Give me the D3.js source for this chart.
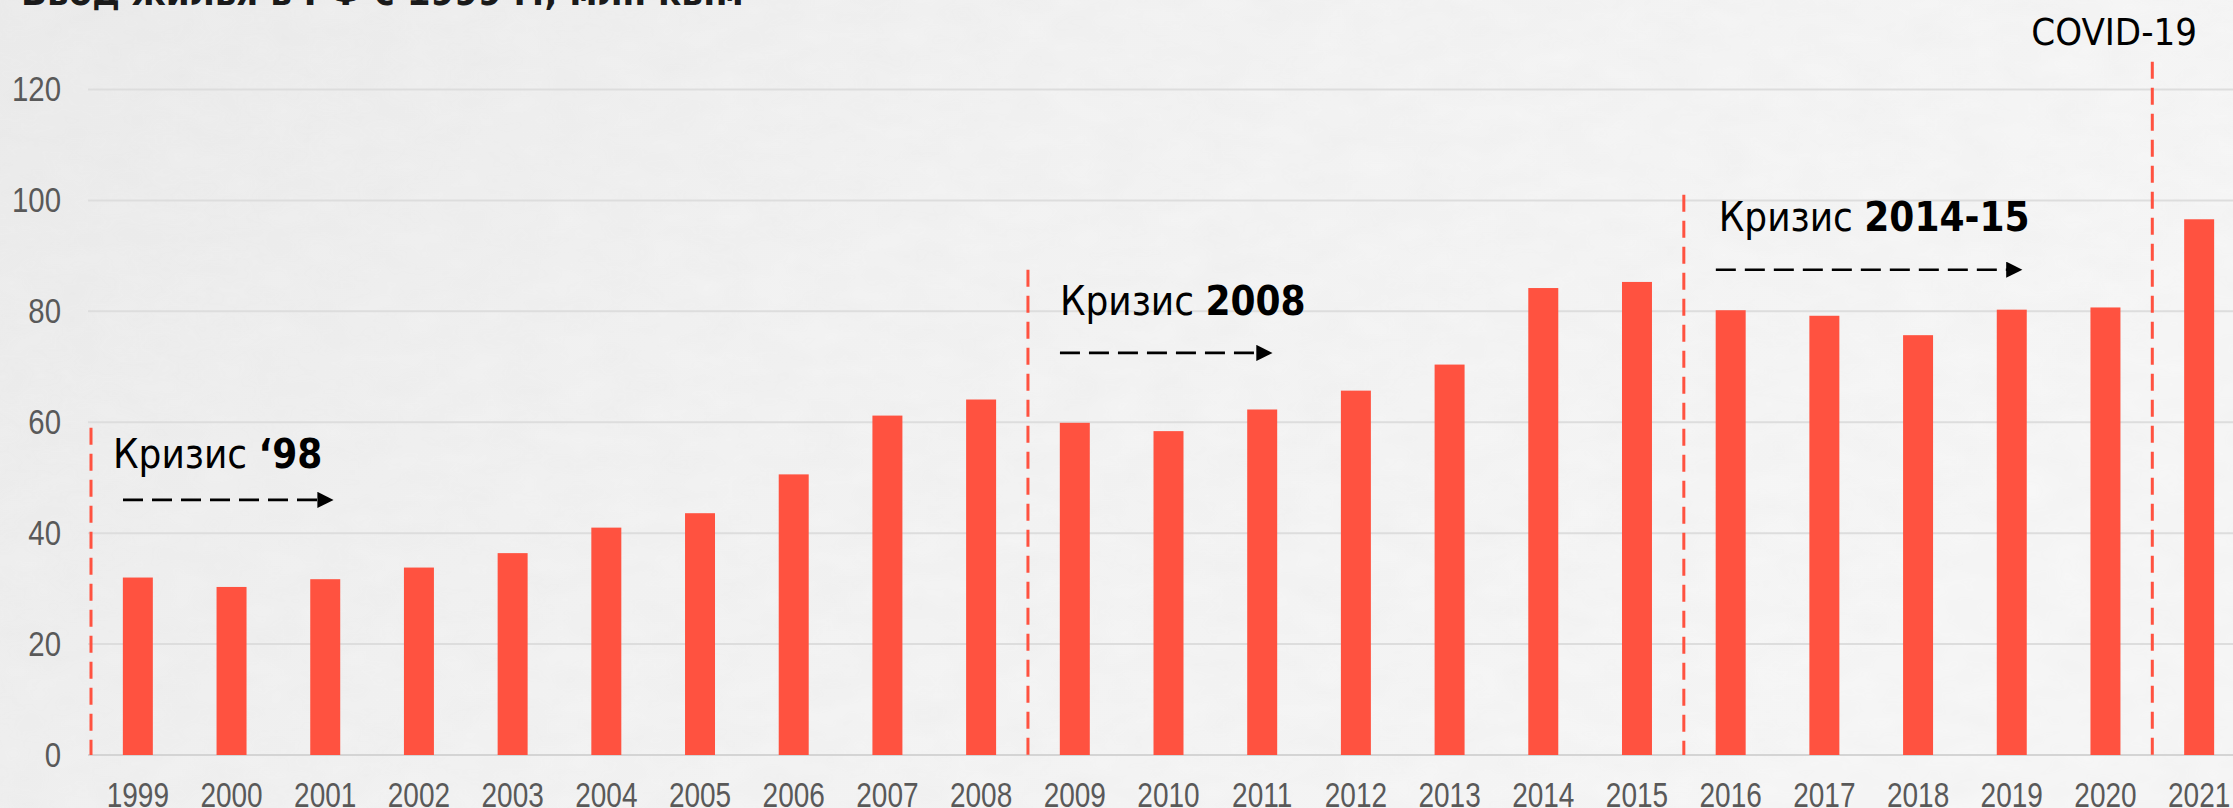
<!DOCTYPE html>
<html>
<head>
<meta charset="utf-8">
<script src="https://cdn.jsdelivr.net/npm/d3@7"></script>
<style>
  html, body { margin: 0; padding: 0; overflow: hidden; }
  #chart svg { display: block; }
</style>
</head>
<body>
<div id="chart"></div>
<script>
var years = ['1999','2000','2001','2002','2003','2004','2005','2006','2007','2008','2009',
  '2010','2011','2012','2013','2014','2015','2016','2017','2018','2019','2020','2021'];
var housing = [32.0, 30.3, 31.7, 33.8, 36.4, 41.0, 43.6, 50.6, 61.2, 64.1, 59.9,
  58.4, 62.3, 65.7, 70.4, 84.2, 85.3, 80.2, 79.2, 75.7, 80.3, 80.7, 96.6];
var yTicks = [0, 20, 40, 60, 80, 100, 120];

// crisis markers: first year after the line, how high the line goes
var crisisYears = ['1999', '2009', '2016', '2021'];
var crisisTops = [59, 87.5, 101, 125];
var crisisNames = ['Кризис ', 'Кризис ', 'Кризис ', 'COVID-19'];
var crisisBold = ['‘98', '2008', '2014-15', ''];

var width = 2233;
var height = 808;
var barColor = '#ff5240';
var labelFont = '"Liberation Sans", Arial, sans-serif';
var noteFont = '"DejaVu Sans Condensed", Tahoma, sans-serif';

var svg = d3.select('#chart').append('svg')
  .attr('width', width)
  .attr('height', height);

var defs = svg.append('defs');

var bg = defs.append('linearGradient')
  .attr('id', 'paper')
  .attr('x1', '0').attr('y1', '0')
  .attr('x2', '1').attr('y2', '0.3');
bg.append('stop').attr('offset', '0').attr('stop-color', '#ececec');
bg.append('stop').attr('offset', '0.45').attr('stop-color', '#f3f3f3');
bg.append('stop').attr('offset', '1').attr('stop-color', '#f7f7f7');

// faint paper grain
var grain = defs.append('filter')
  .attr('id', 'grain')
  .attr('x', 0).attr('y', 0).attr('width', 1).attr('height', 1);
grain.append('feTurbulence')
  .attr('type', 'fractalNoise')
  .attr('baseFrequency', '0.02 0.04')
  .attr('numOctaves', 3)
  .attr('seed', 4);
grain.append('feColorMatrix')
  .attr('values', '0 0 0 0 0.5  0 0 0 0 0.5  0 0 0 0 0.5  0 0 0 0.08 0');
grain.append('feComposite').attr('in2', 'SourceGraphic').attr('operator', 'in');

svg.append('rect')
  .attr('width', width)
  .attr('height', height)
  .attr('fill', 'url(#paper)');
svg.append('rect')
  .attr('width', width)
  .attr('height', height)
  .attr('fill', '#fff')
  .attr('filter', 'url(#grain)');

var x = d3.scaleBand()
  .domain(years)
  .range([91, 2246])
  .paddingInner(0.68)
  .paddingOuter(0.34);

var y = d3.scaleLinear()
  .domain([0, 120])
  .range([755, 89.5]);

var slotLeft = function(year){
  return x(year) - x.step() * x.paddingInner() / 2;
};

// title, mostly off the top of the picture
svg.append('text')
  .attr('x', 21)
  .attr('y', 5)
  .attr('font-family', noteFont)
  .attr('font-weight', 'bold')
  .attr('font-size', 38)
  .attr('fill', '#1a1a1a')
  .text('Ввод жилья в РФ с 1999 г., млн кв.м');

// grid
svg.append('g')
  .selectAll('line')
  .data(yTicks)
  .enter().append('line')
  .attr('x1', 88)
  .attr('x2', width)
  .attr('y1', function(d){ return y(d); })
  .attr('y2', function(d){ return y(d); })
  .attr('stroke', function(d){ return d === 0 ? '#d4d4d4' : '#dddddd'; })
  .attr('stroke-width', 2);

var yAxis = svg.append('g')
  .attr('transform', 'translate(61,0)')
  .call(d3.axisLeft(y).tickValues(yTicks).tickSize(0).tickPadding(0));
yAxis.select('.domain').remove();
yAxis.selectAll('text')
  .attr('font-family', labelFont)
  .attr('font-size', 35)
  .attr('fill', '#595959')
  .attr('transform', 'scale(0.84,1)');

var xAxis = svg.append('g')
  .attr('transform', 'translate(0,' + 807 + ')')
  .call(d3.axisBottom(x).tickSize(0).tickPadding(0));
xAxis.select('.domain').remove();
xAxis.selectAll('text')
  .attr('dy', 0)
  .attr('font-family', labelFont)
  .attr('font-size', 35)
  .attr('fill', '#595959')
  .attr('transform', 'scale(0.8,1)');

// bars
svg.append('g')
  .selectAll('rect')
  .data(years)
  .enter().append('rect')
  .attr('x', function(d){ return x(d); })
  .attr('width', x.bandwidth())
  .attr('y', function(d, i){ return y(housing[i]); })
  .attr('height', function(d, i){ return y(0) - y(housing[i]); })
  .attr('fill', barColor);

// crisis lines
svg.append('g')
  .selectAll('line')
  .data(crisisYears)
  .enter().append('line')
  .attr('x1', function(d){ return slotLeft(d); })
  .attr('x2', function(d){ return slotLeft(d); })
  .attr('y1', function(d, i){ return y(crisisTops[i]); })
  .attr('y2', y(0))
  .attr('stroke', barColor)
  .attr('stroke-width', 3)
  .attr('stroke-dasharray', '17,9');

defs.append('marker')
  .attr('id', 'head')
  .attr('viewBox', '0 0 10 10')
  .attr('refX', 1)
  .attr('refY', 5)
  .attr('markerWidth', 7)
  .attr('markerHeight', 6)
  .attr('markerUnits', 'strokeWidth')
  .attr('orient', 'auto')
  .append('path')
  .attr('d', 'M0,0 L10,5 L0,10 Z')
  .attr('fill', '#000');

// label placement: offset from the line, baseline value, arrow value, arrow start and length
var notes = [
  {dx: 22, text: 51.7, arrow: 46, ax: 32, len: 196},
  {dx: 32, text: 79.3, arrow: 72.5, ax: 32, len: 198},
  {dx: 35, text: 94.4, arrow: 87.5, ax: 32, len: 292}
];

notes.forEach(function(n, i){
  var x0 = slotLeft(crisisYears[i]);
  var t = svg.append('text')
    .attr('x', x0 + n.dx)
    .attr('y', y(n.text))
    .attr('font-family', noteFont)
    .attr('font-size', 40)
    .attr('fill', '#000');
  t.append('tspan').text(crisisNames[i]);
  t.append('tspan').attr('font-weight', 'bold').text(crisisBold[i]);

  svg.append('line')
    .attr('x1', x0 + n.ax)
    .attr('x2', x0 + n.ax + n.len)
    .attr('y1', y(n.arrow))
    .attr('y2', y(n.arrow))
    .attr('stroke', '#000')
    .attr('stroke-width', 2.7)
    .attr('stroke-dasharray', '20,9')
    .attr('marker-end', 'url(#head)');
});

svg.append('text')
  .attr('x', 2197)
  .attr('y', 45)
  .attr('text-anchor', 'end')
  .attr('font-family', noteFont)
  .attr('font-size', 38)
  .attr('fill', '#000')
  .text(crisisNames[3]);
</script>
</body>
</html>
